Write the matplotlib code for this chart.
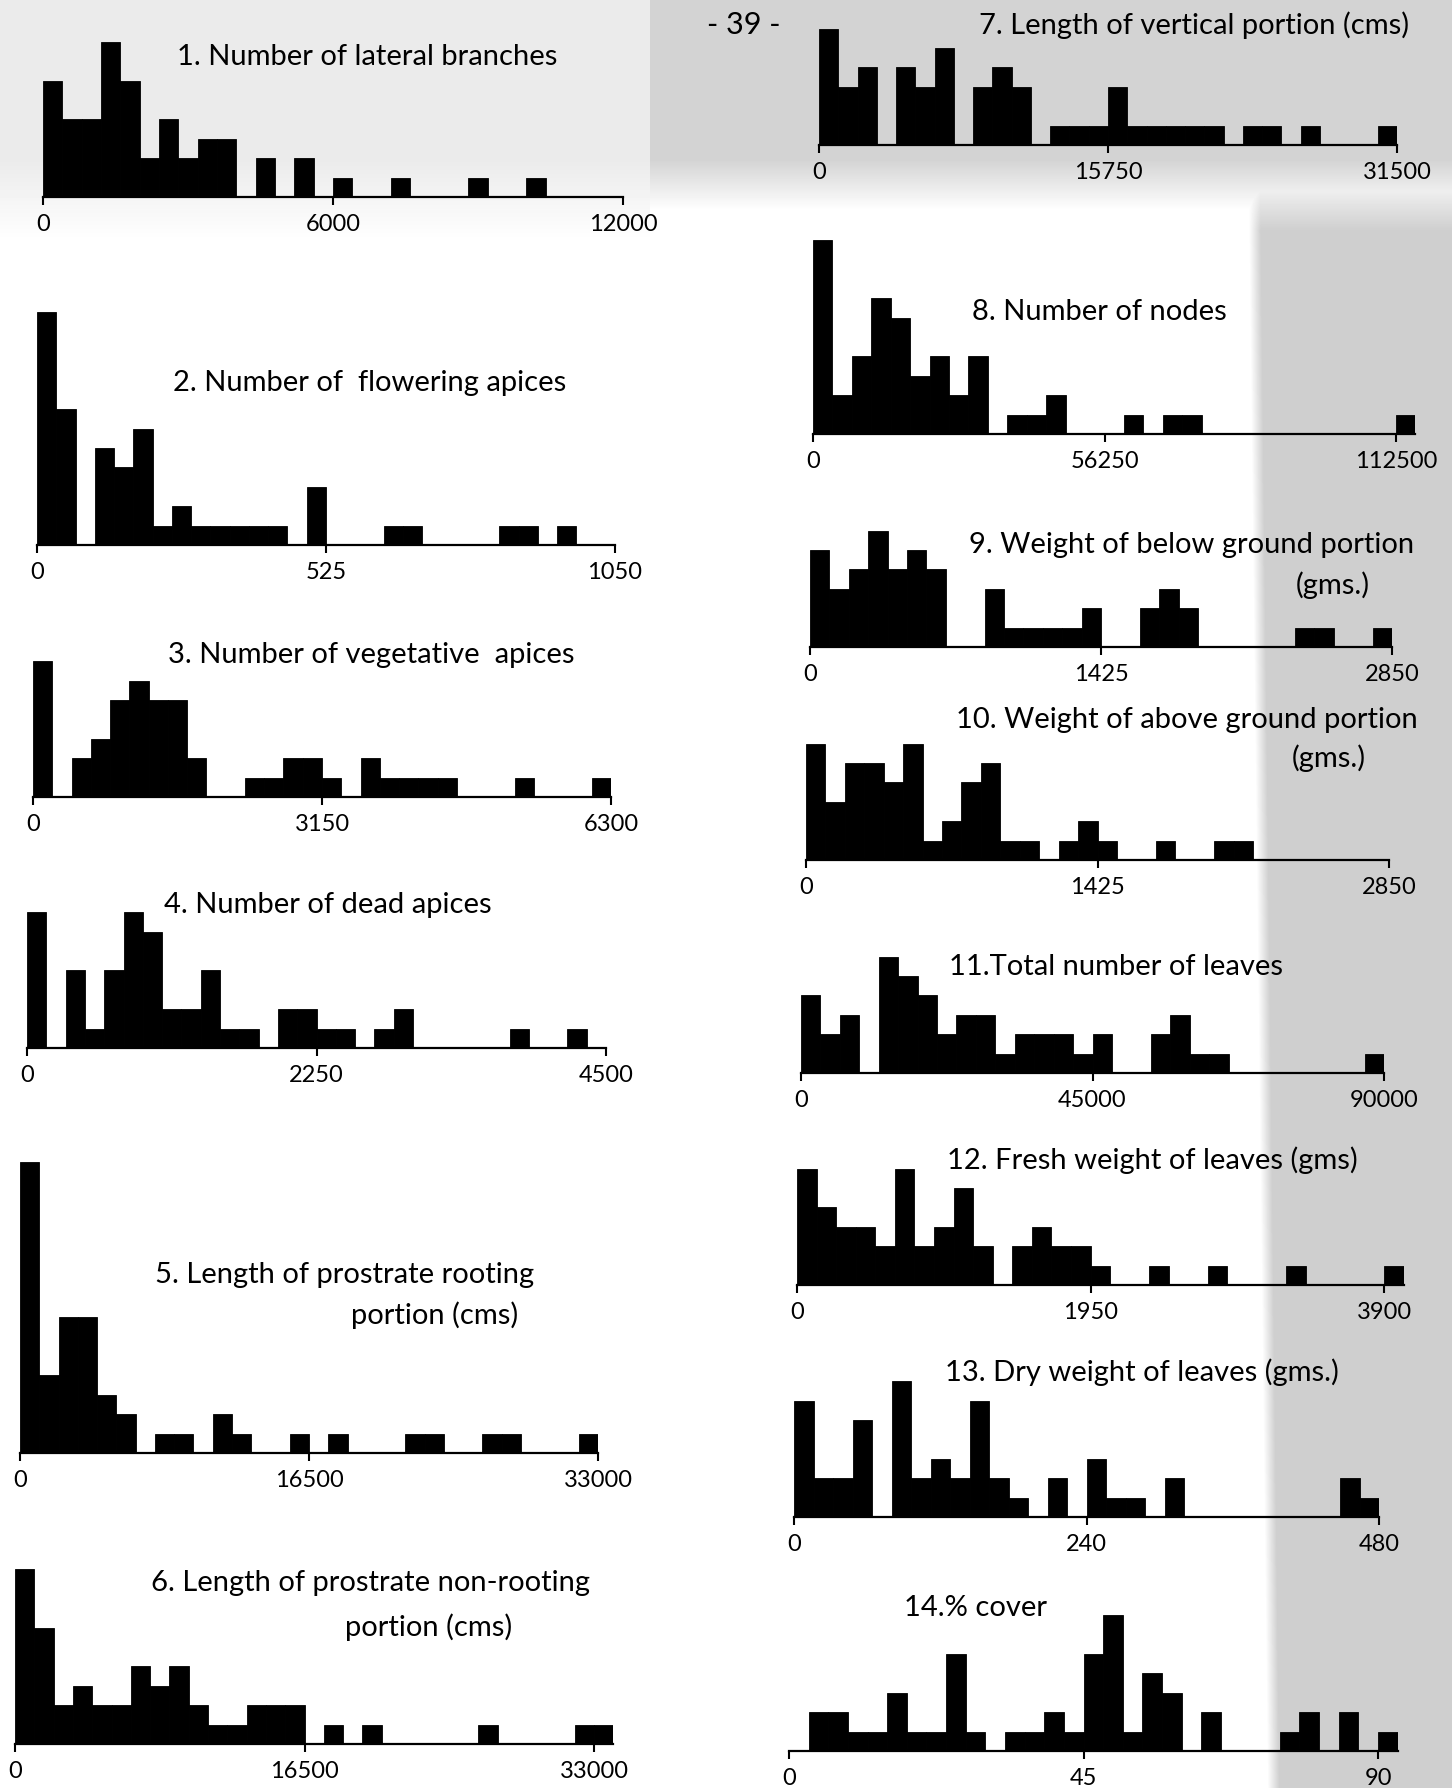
import numpy as np
import matplotlib
matplotlib.use("Agg")
import matplotlib.pyplot as plt

plt.rcParams["font.family"] = ["Lato", "DejaVu Sans"]

# ---- frequency counts (30 equal class intervals from 0 to the stated maximum;
#      a few charts carry one extra class just beyond the maximum) ----
lateral_branches = [6, 4, 4, 8, 6, 2, 4, 2, 3, 3, 0, 2, 0, 2, 0, 1, 0, 0, 1, 0, 0, 0, 1, 0, 0, 1, 0, 0, 0, 0]
flowering_apices = [12, 7, 0, 5, 4, 6, 1, 2, 1, 1, 1, 1, 1, 0, 3, 0, 0, 0, 1, 1, 0, 0, 0, 0, 1, 1, 0, 1, 0, 0]
vegetative_apices = [7, 0, 2, 3, 5, 6, 5, 5, 2, 0, 0, 1, 1, 2, 2, 1, 0, 2, 1, 1, 1, 1, 0, 0, 0, 1, 0, 0, 0, 1]
dead_apices = [7, 0, 4, 1, 4, 7, 6, 2, 2, 4, 1, 1, 0, 2, 2, 1, 1, 0, 1, 2, 0, 0, 0, 0, 0, 1, 0, 0, 1, 0]
prostrate_rooting = [15, 4, 7, 7, 3, 2, 0, 1, 1, 0, 2, 1, 0, 0, 1, 0, 1, 0, 0, 0, 1, 1, 0, 0, 1, 1, 0, 0, 0, 1]
prostrate_nonrooting = [9, 6, 2, 3, 2, 2, 4, 3, 4, 2, 1, 1, 2, 2, 2, 0, 1, 0, 1, 0, 0, 0, 0, 0, 1, 0, 0, 0, 0, 1, 1]
vertical_portion = [6, 3, 4, 0, 4, 3, 5, 0, 3, 4, 3, 0, 1, 1, 1, 3, 1, 1, 1, 1, 1, 0, 1, 1, 0, 1, 0, 0, 0, 1]
nodes = [10, 2, 4, 7, 6, 3, 4, 2, 4, 0, 1, 1, 2, 0, 0, 0, 1, 0, 1, 1, 0, 0, 0, 0, 0, 0, 0, 0, 0, 0, 1]
below_ground = [5, 3, 4, 6, 4, 5, 4, 0, 0, 3, 1, 1, 1, 1, 2, 0, 0, 2, 3, 2, 0, 0, 0, 0, 0, 1, 1, 0, 0, 1]
above_ground = [6, 3, 5, 5, 4, 6, 1, 2, 4, 5, 1, 1, 0, 1, 2, 1, 0, 0, 1, 0, 0, 1, 1, 0, 0, 0, 0, 0, 0, 0]
total_leaves = [4, 2, 3, 0, 6, 5, 4, 2, 3, 3, 1, 2, 2, 2, 1, 2, 0, 0, 2, 3, 1, 1, 0, 0, 0, 0, 0, 0, 0, 1]
fresh_weight = [6, 4, 3, 3, 2, 6, 2, 3, 5, 2, 0, 2, 3, 2, 2, 1, 0, 0, 1, 0, 0, 1, 0, 0, 0, 1, 0, 0, 0, 0, 1]
dry_weight = [6, 2, 2, 5, 0, 7, 2, 3, 2, 6, 2, 1, 0, 2, 0, 3, 1, 1, 0, 2, 0, 0, 0, 0, 0, 0, 0, 0, 2, 1]
cover = [0, 2, 2, 1, 1, 3, 1, 1, 5, 1, 0, 1, 1, 2, 1, 5, 7, 1, 4, 3, 0, 2, 0, 0, 0, 1, 2, 0, 2, 0, 1]

# range maxima and axis labels
range_max = [12000, 1050, 6300, 4500, 33000, 33000, 31500, 112500, 2850, 2850, 90000, 3900, 480, 90]
tick_text = [
    ["0", "6000", "12000"], ["0", "525", "1050"], ["0", "3150", "6300"],
    ["0", "2250", "4500"], ["0", "16500", "33000"], ["0", "16500", "33000"],
    ["0", "15750", "31500"], ["0", "56250", "112500"], ["0", "1425", "2850"],
    ["0", "1425", "2850"], ["0", "45000", "90000"], ["0", "1950", "3900"],
    ["0", "240", "480"], ["0", "45", "90"],
]
titles = [
    ["1. Number of lateral branches"],
    ["2. Number of  flowering apices"],
    ["3. Number of vegetative  apices"],
    ["4. Number of dead apices"],
    ["5. Length of prostrate rooting", "portion (cms)"],
    ["6. Length of prostrate non-rooting", "portion (cms)"],
    ["7. Length of vertical portion (cms)"],
    ["8. Number of nodes"],
    ["9. Weight of below ground portion", "(gms.)"],
    ["10. Weight of above ground portion", "(gms.)"],
    ["11.Total number of leaves"],
    ["12. Fresh weight of leaves (gms)"],
    ["13. Dry weight of leaves (gms.)"],
    ["14.% cover"],
]
series = [lateral_branches, flowering_apices, vegetative_apices, dead_apices,
          prostrate_rooting, prostrate_nonrooting, vertical_portion, nodes,
          below_ground, above_ground, total_leaves, fresh_weight, dry_weight, cover]

# ---- page layout in pixels: (x of 0, x of max, baseline y) ----
W, H = 1452, 1788
UNIT = 19.4  # pixels per observation
frames = [
    (43, 623, 197), (37, 615, 545), (33, 611, 797), (27, 606, 1048),
    (20, 598, 1453), (15, 594, 1744),
    (819, 1397, 145), (813, 1396, 434), (810, 1392, 647), (806, 1389, 860),
    (801, 1384, 1073), (797, 1384, 1285), (794, 1379, 1517), (789, 1378, 1751),
]
# title anchors: (left x, centre y) for each line
title_pos = [
    [(177, 57)], [(173, 383)], [(168, 655)], [(164, 905)],
    [(155, 1275), (351, 1315)], [(151, 1583), (345, 1627)],
    [(979, 25)], [(972, 312)], [(969, 545), (1296, 585)],
    [(956, 720), (1292, 758)], [(949, 967)], [(947, 1160)],
    [(945, 1372)], [(904, 1608)],
]

fig = plt.figure(figsize=(W / 100, H / 100), dpi=100)
fig.patch.set_facecolor("white")

# photocopy shading along the top and down the right margin
yy, xx = np.mgrid[0:H, 0:W]
bg = np.ones((H, W))
top_left = np.clip((240 - yy) / 80.0, 0, 1) * (xx < 650)
top_right = np.clip((210 - yy) / 50.0, 0, 1) * (xx >= 650)
edge = 1248 + (yy - 200) * 0.012
right_band = np.clip((xx - edge) / 12.0, 0, 1) * np.clip((yy - 170) / 60.0, 0, 1)
bg = np.minimum(bg, 1 - 0.08 * top_left)
bg = np.minimum(bg, 1 - 0.17 * top_right)
bg = np.minimum(bg, 1 - 0.19 * right_band)
fig.figimage(bg, xo=0, yo=0, origin="upper", cmap="gray", vmin=0, vmax=1, zorder=-5)

for counts, vmax, labels, (x0, x1, base), tl, tp in zip(
        series, range_max, tick_text, frames, titles, title_pos):
    n = len(counts)
    bw = vmax / 30.0
    span = n * bw
    wpx = (x1 - x0) * n / 30.0
    ymax = max(counts)
    hpx = ymax * UNIT
    ax = fig.add_axes([x0 / W, 1 - base / H, wpx / W, hpx / H])
    ax.set_zorder(2)
    ax.patch.set_visible(False)
    ax.bar(np.arange(n) * bw, counts, width=bw, align="edge",
           color="black", edgecolor="black", linewidth=0.6)
    ax.set_xlim(0, span)
    ax.set_ylim(0, ymax)
    for s in ("top", "right", "left"):
        ax.spines[s].set_visible(False)
    ax.spines["bottom"].set_linewidth(1.6)
    ax.set_yticks([])
    ax.set_xticks([0, vmax / 2, vmax])
    ax.set_xticklabels(labels, fontsize=17)
    ax.tick_params(axis="x", direction="out", length=6, width=1.5, pad=6)
    for line, (tx, ty) in zip(tl, tp):
        fig.text(tx / W, 1 - ty / H, line, ha="left", va="center", fontsize=21, zorder=3)

fig.text(744 / W, 1 - 25 / H, "- 39 -", ha="center", va="center", fontsize=22, zorder=3)

fig.savefig("out.png", dpi=100)
